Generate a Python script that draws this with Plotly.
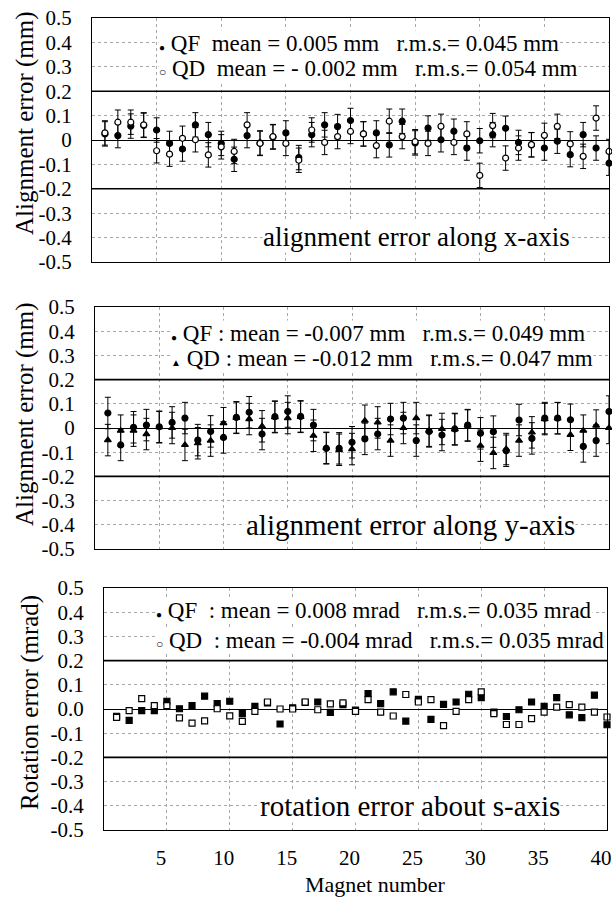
import plotly.graph_objects as go

# ---------------- data ----------------
magnets = list(range(1, 41))

x_qf = [0.025, 0.018, 0.057, 0.060, 0.041, -0.014, -0.037, 0.062, 0.022, -0.014,
        -0.079, 0.018, -0.012, 0.012, 0.029, -0.072, 0.022, 0.062, 0.055, 0.080,
        0.025, 0.029, -0.020, 0.077, -0.012, 0.049, 0.001, 0.036, -0.033, -0.003,
        0.022, 0.048, -0.010, -0.020, -0.033, -0.005, -0.060, 0.022, -0.033, -0.095]
x_qd = [0.029, 0.073, 0.073, 0.062, -0.044, -0.058, 0.007, 0.001, -0.061, -0.028,
        -0.047, 0.062, -0.014, 0.014, -0.014, -0.083, 0.041, -0.010, 0.014, 0.035,
        0.025, -0.023, 0.077, 0.014, -0.007, -0.014, 0.056, -0.010, 0.025, -0.145,
        0.059, -0.074, -0.033, -0.019, 0.019, 0.056, -0.016, -0.067, 0.090, -0.047]
x_err = 0.05

y_qf = [0.062, -0.070, 0.003, 0.012, 0.005, 0.023, 0.041, -0.050, -0.014, -0.039,
        0.044, 0.065, -0.025, 0.047, 0.068, 0.048, 0.012, -0.084, -0.084, -0.059,
        -0.045, -0.025, 0.037, 0.041, -0.052, -0.014, -0.029, -0.004, 0.012, -0.022,
        -0.015, -0.094, 0.033, -0.043, 0.041, 0.041, 0.034, -0.076, -0.052, 0.068]
y_qd = [-0.050, -0.011, -0.011, -0.025, 0.003, 0.000, -0.070, -0.063, -0.052, 0.020,
        0.042, 0.037, 0.007, 0.045, 0.041, 0.046, -0.032, -0.082, -0.090, -0.087,
        0.030, 0.023, -0.052, 0.000, 0.041, -0.011, -0.004, -0.006, 0.010, -0.073,
        -0.103, -0.087, -0.052, -0.018, 0.037, 0.040, -0.028, -0.011, 0.010, 0.000]
y_err = 0.065

r_qf = [-0.030, -0.047, -0.007, -0.007, 0.032, 0.001, 0.014, 0.053, 0.022, 0.032,
        -0.019, 0.011, 0.025, -0.062, 0.005, 0.027, 0.029, -0.014, 0.018, -0.005,
        0.064, 0.022, 0.071, -0.050, 0.040, -0.043, 0.019, 0.029, 0.061, 0.047,
        -0.013, -0.031, -0.003, 0.029, 0.011, 0.047, -0.024, -0.036, 0.057, -0.065]
r_qd = [-0.035, -0.007, 0.043, 0.014, 0.014, -0.037, -0.058, -0.049, 0.001, -0.028,
        -0.051, -0.010, 0.029, 0.000, 0.000, 0.029, -0.003, 0.021, 0.025, -0.010,
        0.039, -0.013, -0.029, 0.060, 0.029, 0.039, -0.069, -0.010, 0.039, 0.071,
        -0.019, -0.064, -0.064, -0.040, -0.013, 0.008, 0.018, 0.008, -0.013, -0.033]

y_tickvals = [0.5, 0.4, 0.3, 0.2, 0.1, 0, -0.1, -0.2, -0.3, -0.4, -0.5]
y_ticktext_a = ["0.5", "0.4", "0.3", "0.2", "0.1", "0", "-0.1", "-0.2", "-0.3", "-0.4", "-0.5"]
y_ticktext_b = ["0.5", "0.4", "0.3", "0.2", "0.1", "0.0", "-0.1", "-0.2", "-0.3", "-0.4", "-0.5"]
x_tickvals = [5, 10, 15, 20, 25, 30, 35, 40]

NB = "\u00a0"
def mk(sym, size=10):
    return '<span style="font-size:%dpx">%s</span>' % (size, sym)
FILLED, OPEN, TRI = mk("\u25cf", 10), mk("\u25cb", 12), mk("\u25b2", 10)
legend1 = [FILLED + " QF" + NB*2 + "mean = 0.005 mm" + NB*3 + "r.m.s.= 0.045 mm",
           OPEN + " QD" + NB*2 + "mean = - 0.002 mm" + NB*3 + "r.m.s.= 0.054 mm"]
legend2 = [FILLED + " QF" + NB + ": mean = -0.007 mm" + NB*3 + "r.m.s.= 0.049 mm",
           TRI + " QD" + NB + ": mean = -0.012 mm" + NB*3 + "r.m.s.= 0.047 mm"]
legend3 = [FILLED + " QF" + NB*2 + ": mean = 0.008 mrad" + NB*3 + "r.m.s.= 0.035 mrad",
           OPEN + " QD" + NB*2 + ": mean = -0.004 mrad" + NB*3 + "r.m.s.= 0.035 mrad"]
labels = ["alignment error along x-axis", "alignment error along y-axis",
          "rotation error about s-axis"]
ytitles = ["Alignment error (mm)", "Alignment error (mm)", "Rotation error (mrad)"]
xtitle = "Magnet number"

# ---------------- layout helpers ----------------
W, H = 612, 897
def PX(x): return x / W
def PY(y): return 1 - y / H

FONT = "Liberation Serif, Times New Roman, DejaVu Serif, serif"
GRID = "#a8a8a8"
panels = [dict(x0=92, x1=609, y0=18, y1=262),
          dict(x0=95, x1=609, y0=307, y1=549),
          dict(x0=104, x1=607, y0=588, y1=830)]

fig = go.Figure()

def add_series(idx, yvals, err, symbol, color, lcolor, size):
    sfx = "" if idx == 1 else str(idx)
    fig.add_trace(go.Scatter(
        x=magnets, y=yvals, mode="markers", xaxis="x" + sfx, yaxis="y" + sfx,
        marker=dict(symbol=symbol, color=color, size=size,
                    line=dict(color=lcolor, width=1.2)),
        error_y=(dict(type="constant", value=err, color="black", thickness=1, width=3)
                 if err else dict(visible=False)),
        cliponaxis=False, showlegend=False))

add_series(1, x_qf, x_err, "circle", "black", "black", 6)
add_series(1, x_qd, x_err, "circle", "white", "black", 6)
add_series(2, y_qf, y_err, "circle", "black", "black", 6)
add_series(2, y_qd, y_err, "triangle-up", "black", "black", 6)
add_series(3, r_qf, None, "square", "black", "black", 6)
add_series(3, r_qd, None, "square", "white", "black", 6)

layout = dict(width=W, height=H, margin=dict(l=0, r=0, t=0, b=0, autoexpand=False),
              plot_bgcolor="white", paper_bgcolor="white",
              font=dict(family=FONT, color="black"))
annotations = []
shapes = []
for i, p in enumerate(panels, start=1):
    sfx = "" if i == 1 else str(i)
    layout["xaxis" + sfx] = dict(
        domain=[PX(p["x0"]), PX(p["x1"])], range=[0, 40], anchor="y" + sfx,
        tickvals=x_tickvals, showgrid=True, gridcolor=GRID, griddash="dot", gridwidth=1,
        showline=True, linecolor="black", linewidth=1.2, mirror=True, zeroline=False,
        ticks="", showticklabels=(i == 3), tickfont=dict(size=21, family=FONT),
        ticklabelshift=-6, ticklabelstandoff=9, automargin=False)
    layout["yaxis" + sfx] = dict(
        domain=[PY(p["y1"]), PY(p["y0"])], range=[-0.5, 0.5], anchor="x" + sfx,
        tickvals=y_tickvals, ticktext=(y_ticktext_b if i == 3 else y_ticktext_a),
        showgrid=True, gridcolor=GRID, griddash="dot", gridwidth=1,
        showline=True, linecolor="black", linewidth=1.2, mirror=True,
        zeroline=True, zerolinecolor="black", zerolinewidth=1,
        ticks="", tickfont=dict(size=21, family=FONT), ticklabelstandoff=15,
        automargin=False)
    for yv in (0.2, -0.2):
        shapes.append(dict(type="line", xref="x" + sfx, yref="y" + sfx, x0=0, x1=40,
                           y0=yv, y1=yv, line=dict(color="black", width=1.6)))

leg_pos = [(158, 43, 69), (170, 333, 358), (155, 610, 640)]
leg_size = [23, 23, 23]
legends = [legend1, legend2, legend3]
for (lx, ly1, ly2), leg, fs in zip(leg_pos, legends, leg_size):
    for txt, yy in zip(leg, (ly1, ly2)):
        annotations.append(dict(text=txt, xref="paper", yref="paper", x=PX(lx), y=PY(yy),
                                xanchor="left", yanchor="middle", showarrow=False,
                                bgcolor="white", borderpad=0,
                                font=dict(size=fs, family=FONT)))
lab_pos = [(262, 237), (245, 525), (259, 806)]
lab_size = [27, 29, 29]
for (lx, ly), txt, fs in zip(lab_pos, labels, lab_size):
    annotations.append(dict(text=txt, xref="paper", yref="paper", x=PX(lx), y=PY(ly),
                            xanchor="left", yanchor="middle", showarrow=False,
                            bgcolor="white", borderpad=0,
                            font=dict(size=fs, family=FONT)))
yt_pos = [(25, 123), (25, 414), (30, 703)]
for (tx, ty), txt in zip(yt_pos, ytitles):
    annotations.append(dict(text=txt, xref="paper", yref="paper", x=PX(tx), y=PY(ty),
                            xanchor="center", yanchor="middle", showarrow=False,
                            textangle=-90, font=dict(size=25, family=FONT)))
annotations.append(dict(text=xtitle, xref="paper", yref="paper", x=PX(375), y=PY(884),
                        xanchor="center", yanchor="middle", showarrow=False,
                        font=dict(size=22, family=FONT)))
layout["annotations"] = annotations
layout["shapes"] = shapes
fig.update_layout(**layout)
fig.write_html("out.html")
